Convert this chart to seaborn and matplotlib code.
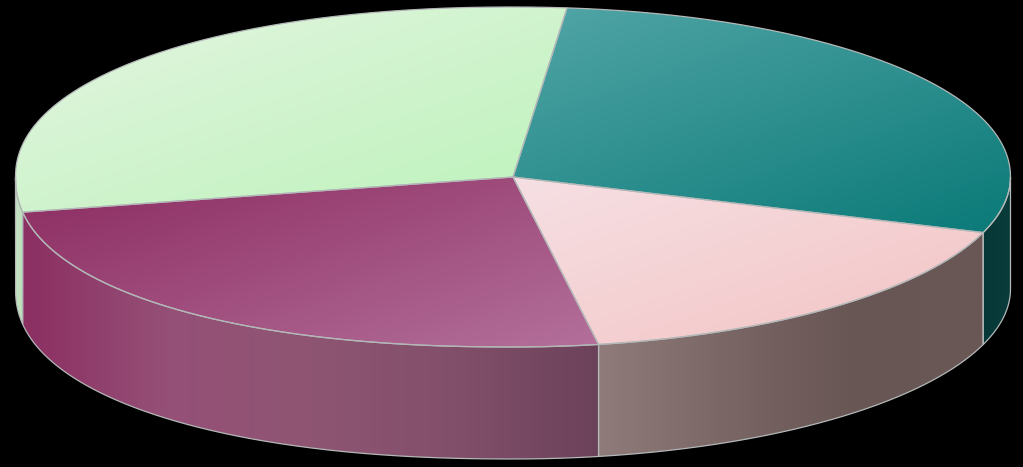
import numpy as np
import matplotlib
matplotlib.use("Agg")
import matplotlib.pyplot as plt
from matplotlib.patches import PathPatch
from matplotlib.path import Path
import seaborn as sns

# slice shares, clockwise from the top boundary
slices = ["teal", "pink", "magenta", "green"]
shares = [28.66, 16.95, 24.92, 29.47]
start_angle = 84.1

# gradient stops for top faces and side walls
top_colors = {
    "teal": ["#52A5A6", "#0A7A78"],
    "pink": ["#F6E0E4", "#F3C3C3"],
    "magenta": ["#8C2B60", "#B3709A"],
    "green": ["#E4F5E1", "#BDF3BB"],
}
top_dir = (60, 170)
side_colors = {
    "teal": ["#063838", "#0A3C3C"],
    "pink": ["#8F7B79", "#7A6664", "#685654", "#6A5856"],
    "magenta": ["#8C2F62", "#955077", "#8E5572", "#824F6A", "#6C425A"],
    "green": ["#C4E2C2", "#BBDDB9"],
}

cx, cy, a, b, depth = 513, 177, 497.5, 170, 112
edge = "#B4B8B8"

sns.set_style("white")
fig = plt.figure(figsize=(10.23, 4.67), dpi=100, facecolor="black")
ax = fig.add_axes([0, 0, 1, 1])
ax.axis("off")


def rim(t0, t1, dy=0, n=300):
    # the rim is not a true ellipse, the corners bulge a bit on the left side
    t = np.radians(np.linspace(t0, t1, n))
    c, s = np.cos(t), np.sin(t)
    p = np.select([(c < 0) & (s < 0), (c < 0) & (s >= 0), (c >= 0) & (s >= 0)], [2.2, 2.12, 2.05], 2.0)
    x = np.sign(c) * np.abs(c) ** (2 / p)
    y = np.sign(s) * np.abs(s) ** (2 / p)
    return np.column_stack([cx + a * x, cy - b * y + dy])


def fill(verts, colors, direction):
    path = Path(np.vstack([verts, verts[:1]]))
    x0, y0 = verts.min(axis=0)
    x1, y1 = verts.max(axis=0)
    xx, yy = np.meshgrid(np.linspace(x0, x1, 300), np.linspace(y0, y1, 200))
    g = xx * direction[0] + yy * direction[1]
    g = (g - g.min()) / (g.max() - g.min())
    cmap = sns.blend_palette(colors, as_cmap=True)
    im = ax.imshow(g, cmap=cmap, extent=(x0, x1, y1, y0), aspect="auto", zorder=2)
    patch = PathPatch(path, transform=ax.transData, fc="none", ec="none")
    ax.add_patch(patch)
    im.set_clip_path(patch)
    ax.add_patch(PathPatch(path, fc="none", ec=edge, lw=0.9, zorder=3))


# walk the shares clockwise to get each slice's angular range
angles = start_angle - np.cumsum([0] + shares) * 3.6
ranges = {name: (angles[i], angles[i + 1]) for i, name in enumerate(slices)}

# side walls: only the front half of the rim shows
for name in slices:
    t0, t1 = ranges[name]
    lo, hi = max(t1, -180), min(t0, 0)
    if hi <= lo:
        continue
    fill(np.vstack([rim(hi, lo), rim(lo, hi, depth)]), side_colors[name], (1, 0))

# top faces
for name in slices:
    t0, t1 = ranges[name]
    fill(np.vstack([[[cx, cy]], rim(t0, t1)]), top_colors[name], top_dir)

ax.set_xlim(0, 1023)
ax.set_ylim(467, 0)
fig.savefig("out.png", dpi=100, facecolor="black")
